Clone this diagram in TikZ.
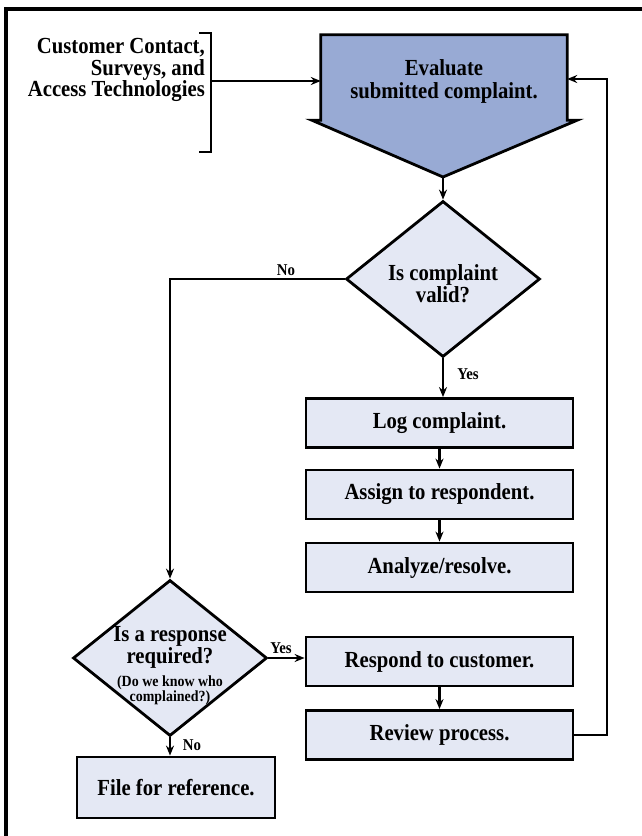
\documentclass[tikz,border=0pt]{standalone}
\usepackage{fontspec}
\setmainfont{Liberation Serif}[FakeStretch=0.9]
\usetikzlibrary{shapes.geometric,arrows.meta,calc}

\definecolor{evalblue}{RGB}{152,170,212}
\definecolor{boxfill}{RGB}{228,232,244}

\begin{document}
\begin{tikzpicture}[x=1pt,y=-1pt,
  txt/.style={font=\bfseries\fontsize{23}{22}\selectfont, inner sep=0pt, align=center},
  smalltxt/.style={font=\bfseries\fontsize{15.5}{15}\selectfont, inner sep=0pt, align=center},
  lbl/.style={font=\bfseries\fontsize{16.5}{16}\selectfont, inner sep=0pt},
  stepbox/.style={draw, line width=2.8pt, fill=boxfill, minimum width=267pt,
    minimum height=49pt, inner sep=0pt, font=\bfseries\fontsize{23}{22}\selectfont},
  decision/.style={draw, shape=diamond, line width=2.8pt, fill=boxfill,
    minimum width=194pt, minimum height=156pt, inner sep=0pt},
  conn/.style={line width=2.4pt, -{Stealth[length=10pt,width=8pt]}},
  plain/.style={line width=2.4pt}
]
\useasboundingbox (0,0) rectangle (642,836);

% outer frame (top and left edges)
\draw[line width=3.2pt] (6,836) -- (6,9) -- (642,9);

% input sources with bracket
\node[txt, anchor=east, align=right, font=\bfseries\fontsize{23}{21.5}\selectfont]
  (src) at (205,70) {Customer Contact,\\Surveys, and\\Access Technologies};
\coordinate (brT) at (211,33);
\coordinate (brB) at (211,152);
\coordinate (brM) at (211,81);
\draw[plain] (199,33) -- (brT) -- (brB) -- (199,152);

% evaluation step: box ending in a downward arrow
\node[minimum width=246pt, minimum height=85pt, inner sep=0pt] (eval) at (444,77.5) {};
\coordinate (tip) at (443,177);
\draw[line width=2.8pt, fill=evalblue, line join=miter]
  (eval.north west) -- (eval.north east) -- (eval.south east) -- ++(10,0)
  -- (tip) -- ($(eval.south west)+(-9,0)$) -- (eval.south west) -- cycle;
\node[txt] (evaltxt) at (444,81) {Evaluate\\[1pt]submitted complaint.};

\draw[conn] (brM) -- (eval.west |- brM);

% validity decision
\node[decision] (valid) at (443,279) {};
\node[txt] (validtxt) at (443,284) {Is complaint\\valid?};
\draw[conn] (tip) -- (valid.north);

% main processing steps
\node[stepbox] (log) at (439.5,423) {Log complaint.};
\node[stepbox] (assign) at (439.5,494.5) {Assign to respondent.};
\node[stepbox] (analyze) at (439.5,567.5) {Analyze/resolve.};
\node[stepbox] (respond) at (439.5,661.5) {Respond to customer.};
\node[stepbox] (review) at (439.5,735) {Review process.};

\draw[conn] (valid.south) -- (valid.south |- log.north);
\node[lbl] (yes1) at (468,374) {Yes};
\draw[conn] (log.south) -- (assign.north);
\draw[conn] (assign.south) -- (analyze.north);
\draw[conn] (respond.south) -- (review.north);

% response decision
\node[decision] (resp) at (170,658) {};
\node[txt] (resptxt) at (170,647) {Is a response\\required?};
\node[smalltxt] (respnote) at (170,690) {(Do we know who\\complained?)};

\draw[conn] (valid.west) -- (resp.north |- valid.west) -- (resp.north);
\node[lbl] (no1) at (286,270) {No};

\draw[conn] (resp.east) -- (respond.west |- resp.east);
\node[lbl] (yes2) at (281,648) {Yes};

\node[stepbox, minimum width=198pt, minimum height=61pt] (file) at (176,787.5) {File for reference.};
\draw[conn] (resp.south) -- (resp.south |- file.north);
\node[lbl] (no2) at (192,745) {No};

% feedback loop back to evaluation
\coordinate (fbB) at (607,735);
\coordinate (fbT) at (607,79);
\draw[conn] (review.east) -- (fbB) -- (fbT) -- (eval.east |- fbT);

\end{tikzpicture}
\end{document}
